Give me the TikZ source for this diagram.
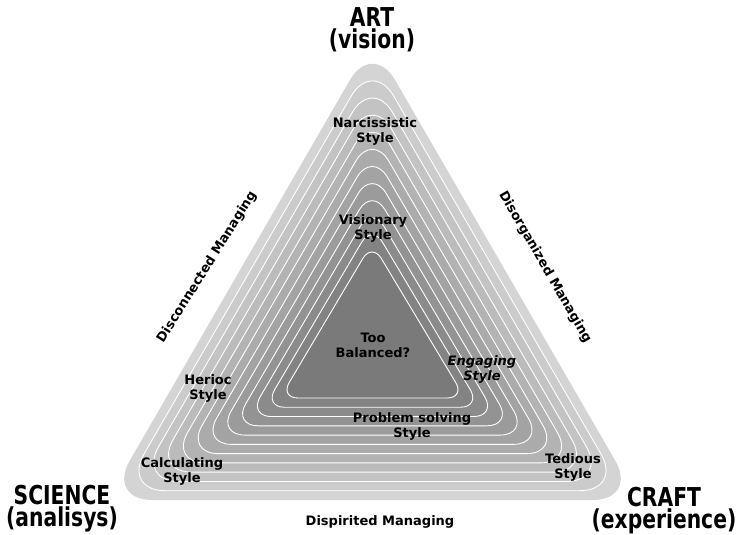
\documentclass[tikz,border=0pt]{standalone}
\usepackage{fontspec}
\setmainfont{DejaVu Sans}
\newfontfamily\headfont[FakeStretch=0.78]{DejaVu Sans}
\tikzset{
  stylelabel/.style={font=\fontsize{13}{15}\selectfont\bfseries, align=center, text=black, inner sep=0pt},
  sidelabel/.style={font=\fontsize{13}{15}\selectfont\bfseries, text=black, inner sep=0pt},
  headlabel/.style={font=\headfont\fontsize{26}{22}\selectfont\bfseries, align=center, text=black, inner sep=0pt},
  ringline/.style={draw=white, line width=0.9pt}
}
\begin{document}
\begin{tikzpicture}[x=1pt,y=-1pt]
\useasboundingbox (0,0) rectangle (740,535);
% concentric rounded triangles
\foreach \k in {0,...,11} {
  \pgfmathsetmacro\t{\k/11}
  \pgfmathsetmacro\ax{372.5+(372-372.5)*\t}
  \pgfmathsetmacro\ay{41+(243-41)*\t}
  \pgfmathsetmacro\lx{107+(280-107)*\t}
  \pgfmathsetmacro\ly{500+(398-500)*\t}
  \pgfmathsetmacro\rx{638+(465-638)*\t}
  \pgfmathsetmacro\rr{45+(18-45)*\t}
  \pgfmathsetmacro\p{17+(52-17)*\t}
  \coordinate (A\k) at (\ax,\ay);
  \coordinate (L\k) at (\lx,\ly);
  \coordinate (R\k) at (\rx,\ly);
  \fill[black!\p!white, rounded corners=\rr pt] (A\k) -- (L\k) -- (R\k) -- cycle;
  \ifnum\k>0
    \draw[ringline, rounded corners=\rr pt] (A\k) -- (L\k) -- (R\k) -- cycle;
  \fi
}
% style labels
\node[stylelabel] (narc) at (375,131) {Narcissistic\\Style};
\node[stylelabel] (vis) at (373,228) {Visionary\\Style};
\node[stylelabel] (bal) at (373,345) {Too\\Balanced?};
\node[stylelabel, font=\fontsize{13}{15}\selectfont\bfseries\itshape] (eng) at (482,369) {Engaging\\Style};
\node[stylelabel] (her) at (208,388) {Herioc\\Style};
\node[stylelabel] (prob) at (412,426) {Problem solving\\Style};
\node[stylelabel] (calc) at (182,471) {Calculating\\Style};
\node[stylelabel] (ted) at (573,467) {Tedious\\Style};
% side labels
\node[sidelabel, rotate=58] (disc) at (207,267) {Disconnected Managing};
\node[sidelabel, rotate=-60] (disorg) at (545,267) {Disorganized Managing};
\node[sidelabel] (disp) at (380,522) {Dispirited Managing};
% corner headings
\node[headlabel] (art) at (372,30) {ART\\(vision)};
\node[headlabel] (sci) at (62,509) {SCIENCE\\(analisys)};
\node[headlabel] (craft) at (664,511) {CRAFT\\(experience)};
\end{tikzpicture}
\end{document}
